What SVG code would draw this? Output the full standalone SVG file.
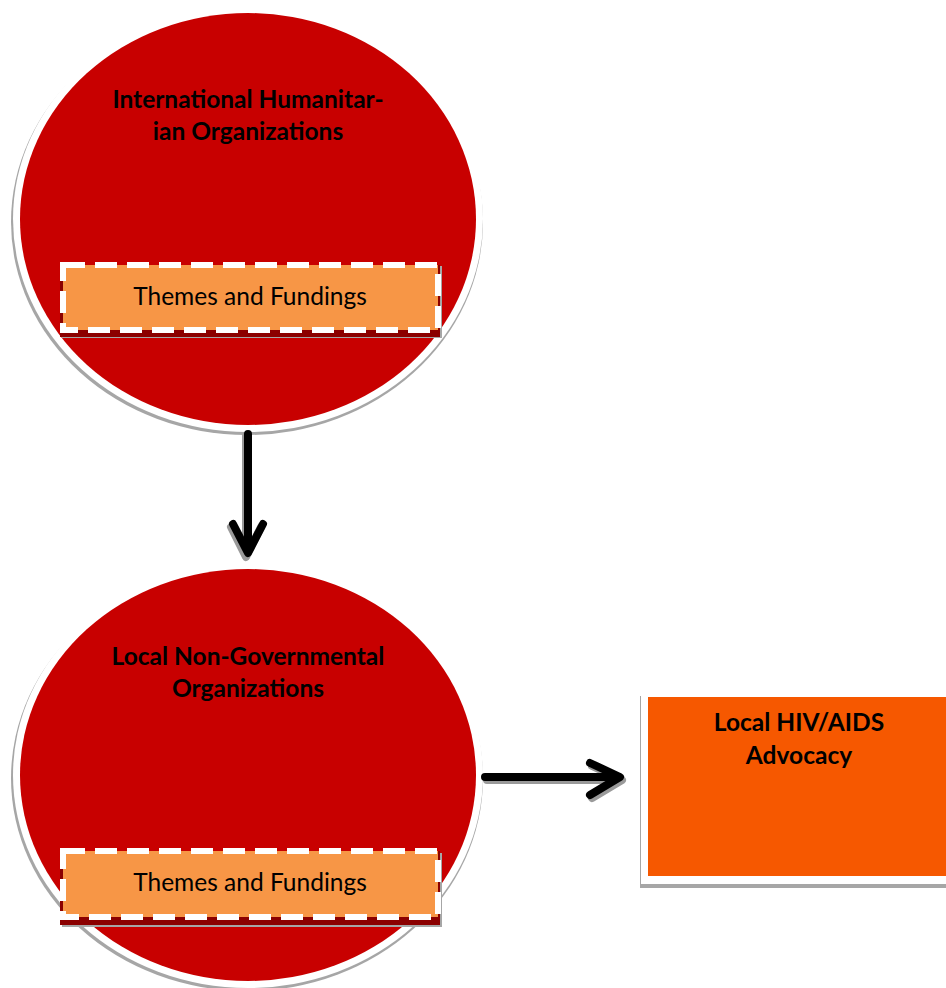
<svg xmlns="http://www.w3.org/2000/svg" width="946" height="988" viewBox="0 0 946 988">
<style>
.title{font-family:Lato,"Liberation Sans",sans-serif;font-weight:bold;font-size:24.5px;fill:#000;text-anchor:middle}
.sub{font-family:Lato,"Liberation Sans",sans-serif;font-size:24.5px;fill:#000;text-anchor:middle}
.red{fill:#C80000}
.ring{fill:#FFFFFF}
.ringshadow{fill:#A6A6A6}
.boxshadow{fill:#A6A6A6}
.boxdark{fill:#8B0000}
.box{fill:#F79646;stroke:#FFFFFF;stroke-width:6;stroke-dasharray:22 10}
.conn{fill:none;stroke:#000;stroke-width:8;stroke-linecap:round;stroke-linejoin:round}
.connshadow{fill:none;stroke:#9A9A9A;stroke-width:8;stroke-linecap:round;stroke-linejoin:round}
</style>
<rect width="946" height="988" fill="#FFFFFF"/>
<g id="intl">
<ellipse class="ringshadow" cx="247" cy="222" rx="236" ry="213"/>
<ellipse class="ring" cx="248" cy="219" rx="235" ry="213"/>
<ellipse class="red" cx="248" cy="219" rx="228" ry="206"/>
<text class="title" x="248" y="108">International Humanitar-</text>
<text class="title" x="248" y="140">ian Organizations</text>
<g id="intl-themes">
<rect class="boxshadow" x="62" y="266" width="380" height="72"/>
<rect class="boxdark" x="60" y="265" width="380" height="72"/>
<rect class="box" x="63" y="265" width="375" height="65"/>
<text class="sub" x="250" y="305">Themes and Fundings</text>
</g>
</g>
<g id="local-ngo">
<ellipse class="ringshadow" cx="247" cy="778" rx="236" ry="213"/>
<ellipse class="ring" cx="248" cy="775" rx="235" ry="213"/>
<ellipse class="red" cx="248" cy="775" rx="228" ry="206"/>
<text class="title" x="248" y="665">Local Non-Governmental</text>
<text class="title" x="248" y="697">Organizations</text>
<g id="ngo-themes">
<rect class="boxshadow" x="62" y="853" width="380" height="74"/>
<rect class="boxdark" x="60" y="851" width="380" height="74"/>
<rect class="box" x="63" y="851" width="375" height="66"/>
<text class="sub" x="250" y="891">Themes and Fundings</text>
</g>
</g>
<g id="advocacy">
<rect x="640" y="696" width="310" height="192" fill="#A6A6A6"/>
<rect x="641" y="692" width="310" height="192" fill="#FFFFFF"/>
<rect x="648" y="697" width="300" height="179" fill="#F65800"/>
<text class="title" x="799" y="731">Local HIV/AIDS</text>
<text class="title" x="799" y="764">Advocacy</text>
</g>
<g id="connectors">
<path class="connshadow" d="M246 436 L246 542 M231 527 L246 557 L261 527"/>
<path class="conn" d="M248 434 L248 540 M233 524 L248 553 L263 524"/>
<path class="connshadow" d="M487 780 L618 780 M592 766 L622 780 M592 798 L622 780"/>
<path class="conn" d="M485 777 L616 777 M590 763 L620 777 L590 795"/>
</g>
</svg>
